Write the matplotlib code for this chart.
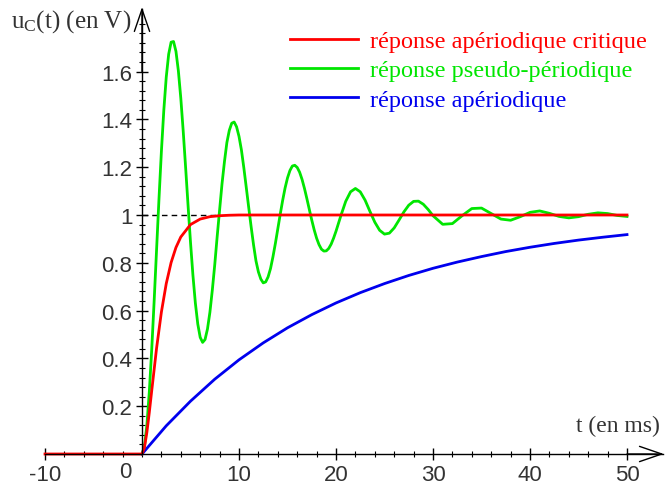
import numpy as np
import matplotlib
matplotlib.use("Agg")
import matplotlib.pyplot as plt
from matplotlib.ticker import FixedLocator
from matplotlib.lines import Line2D

# ---- data ----
t_red = [-10, 0, 0.25, 0.5, 0.75, 1, 1.5, 2, 2.5, 3, 3.5, 4, 5, 6, 7, 8, 9, 10, 50]
u_red = [0, 0, 0.027, 0.090, 0.173, 0.264, 0.442, 0.594, 0.713, 0.801, 0.864, 0.908,
         0.960, 0.983, 0.993, 0.997, 0.999, 1.0, 1.0]

t_green = [0, 0.25, 0.5, 0.75, 1, 1.25, 1.5, 1.75, 2, 2.25, 2.5, 2.75, 3, 3.25, 3.5, 3.75,
           4, 4.25, 4.5, 4.75, 5, 5.25, 5.5, 5.75, 6, 6.25, 6.5, 6.75, 7, 7.25, 7.5, 7.75,
           8, 8.25, 8.5, 8.75, 9, 9.25, 9.5, 9.75, 10, 10.25, 10.5, 10.75, 11, 11.25, 11.5,
           11.75, 12, 12.25, 12.5, 12.75, 13, 13.25, 13.5, 13.75, 14, 14.25, 14.5, 14.75,
           15, 15.25, 15.5, 15.75, 16, 16.25, 16.5, 16.75, 17, 17.25, 17.5, 17.75, 18,
           18.25, 18.5, 18.75, 19, 19.25, 19.5, 19.75, 20, 20.5, 21, 21.5, 22, 22.5, 23,
           23.5, 24, 24.5, 25, 25.5, 26, 26.5, 27, 27.5, 28, 28.5, 29, 29.5, 30, 31, 32,
           33, 34, 35, 36, 37, 38, 39, 40, 41, 42, 43, 44, 45, 46, 47, 48, 49, 50]
u_green = [0, 0.031, 0.120, 0.258, 0.435, 0.638, 0.853, 1.067, 1.266, 1.439, 1.577, 1.673,
           1.723, 1.726, 1.685, 1.603, 1.489, 1.350, 1.197, 1.039, 0.886, 0.748, 0.632,
           0.544, 0.488, 0.467, 0.479, 0.523, 0.593, 0.686, 0.792, 0.910, 1.021, 1.131,
           1.223, 1.303, 1.354, 1.384, 1.389, 1.369, 1.329, 1.272, 1.197, 1.115, 1.032,
           0.951, 0.875, 0.808, 0.762, 0.732, 0.716, 0.720, 0.741, 0.776, 0.825, 0.881,
           0.942, 1.003, 1.061, 1.113, 1.155, 1.186, 1.205, 1.208, 1.199, 1.179, 1.149,
           1.111, 1.068, 1.023, 0.979, 0.938, 0.903, 0.876, 0.857, 0.849, 0.850, 0.860,
           0.878, 0.903, 0.932, 0.997, 1.057, 1.097, 1.111, 1.097, 1.062, 1.015, 0.970,
           0.936, 0.920, 0.924, 0.946, 0.979, 1.013, 1.041, 1.057, 1.058, 1.045, 1.023,
           0.997, 0.961, 0.964, 0.997, 1.027, 1.029, 1.006, 0.983, 0.978, 0.993, 1.011,
           1.017, 1.007, 0.994, 0.988, 0.993, 1.003, 1.009, 1.006, 0.998, 0.994]

t_blue = [0, 2.5, 5, 7.5, 10, 12.5, 15, 17.5, 20, 22.5, 25, 27.5, 30, 32.5, 35, 37.5,
          40, 42.5, 45, 47.5, 50]
u_blue = [0, 0.118, 0.221, 0.313, 0.394, 0.465, 0.528, 0.583, 0.632, 0.675, 0.713, 0.747,
          0.777, 0.803, 0.826, 0.847, 0.865, 0.881, 0.895, 0.907, 0.918]

labels = ["réponse apériodique critique", "réponse pseudo-périodique", "réponse apériodique"]
colors = ["#ff0000", "#00e600", "#0000ee"]

x_ticks = [-10, 10, 20, 30, 40, 50]
x_ticklabels = ["-10", "10", "20", "30", "40", "50"]
y_ticks = [0.2, 0.4, 0.6, 0.8, 1.0, 1.2, 1.4, 1.6]
y_ticklabels = ["0.2", "0.4", "0.6", "0.8", "1", "1.2", "1.4", "1.6"]

# ---- figure ----
plt.rcParams['mathtext.fontset'] = 'custom'
plt.rcParams['mathtext.rm'] = 'Liberation Serif'
plt.rcParams['mathtext.it'] = 'Liberation Serif'

W, H = 665, 489
fig = plt.figure(figsize=(W / 100, H / 100), dpi=100)
x0px, xs = 142.0, 9.7     # px of t=0, px per ms
y0px, ys = 455.0, 239.0   # px (from top) of u=0, px per V
xmin, xmax = -14.0, 53.9
ymin, ymax = -0.14, 1.88
left = (x0px + xmin * xs) / W
width = (xmax - xmin) * xs / W
bottom = (H - (y0px - ymin * ys)) / H
height = (ymax - ymin) * ys / H
ax = fig.add_axes([left, bottom, width, height])
ax.set_xlim(xmin, xmax)
ax.set_ylim(ymin, ymax)

serif = "Liberation Serif"
sans = "Liberation Sans"

ax.hlines(1.0, 0, 8, colors="black", linestyles=(0, (4, 3)), linewidth=1.0, zorder=2)
ax.plot(t_green, u_green, color=colors[1], lw=2.0, label=labels[1], zorder=3)
ax.plot(t_blue, u_blue, color=colors[2], lw=2.0, label=labels[2], zorder=3)
ax.plot(t_red, u_red, color=colors[0], lw=2.0, label=labels[0], zorder=4)

# spines through origin
for s in ["top", "right"]:
    ax.spines[s].set_visible(False)
ax.spines["left"].set_position(("data", 0))
ax.spines["bottom"].set_position(("data", 0))
ax.spines["left"].set_bounds(0, 1.86)
ax.spines["bottom"].set_bounds(-10, 53.7)
for s in ["left", "bottom"]:
    ax.spines[s].set_linewidth(1.0)
    ax.spines[s].set_zorder(5)

ax.set_xticks(x_ticks)
ax.set_xticklabels(x_ticklabels)
ax.set_yticks(y_ticks)
ax.set_yticklabels(y_ticklabels)
ax.xaxis.set_minor_locator(FixedLocator([v for v in range(-10, 51, 2)]))
ax.yaxis.set_minor_locator(FixedLocator([round(0.04 * k, 2) for k in range(1, 46)]))
ax.tick_params(axis="both", which="major", direction="inout", length=8, width=1.0,
               labelsize=16, colors="black", labelcolor="#333333")
ax.tick_params(axis="both", which="minor", direction="inout", length=4, width=0.8)
ax.tick_params(axis="x", which="major", pad=3)
ax.tick_params(axis="y", which="major", pad=3)
for lab in ax.get_xticklabels() + ax.get_yticklabels():
    lab.set_fontfamily(sans)

# "0" label at origin
ax.annotate("0", xy=(0, 0), xytext=(-17, -7), textcoords="offset pixels",
            ha="center", va="top", fontsize=16, family=sans, color="#333333")

# arrows
ax.annotate("", xy=(0, 1.87), xytext=(0, 1.6),
            arrowprops=dict(arrowstyle="->,head_length=1.6,head_width=0.55",
                            lw=1.0, color="black", mutation_scale=10, shrinkA=0, shrinkB=0))
ax.annotate("", xy=(53.8, 0), xytext=(50, 0),
            arrowprops=dict(arrowstyle="->,head_length=1.6,head_width=0.55",
                            lw=1.0, color="black", mutation_scale=10, shrinkA=0, shrinkB=0))

# axis titles
fig.text(131 / W, 1 - 28 / H, r"u$_\mathrm{C}$(t) (en V)", ha="right", va="baseline",
         fontsize=18, family=serif, color="#333333")
fig.text(660 / W, 1 - 432 / H, "t (en ms)", ha="right", va="baseline",
         fontsize=17, family=serif, color="#333333")

# legend
handles = [Line2D([], [], color=colors[0], lw=2.0),
           Line2D([], [], color=colors[1], lw=2.0),
           Line2D([], [], color=colors[2], lw=2.0)]
leg = fig.legend(handles, labels, loc="upper left", bbox_to_anchor=(290 / W, 1 - 31 / H),
                 frameon=False, borderpad=0, borderaxespad=0, handlelength=2.8,
                 handletextpad=0.5, labelspacing=0.3,
                 prop={"family": serif, "size": 17.5}, labelcolor="linecolor")

fig.savefig("out.png", dpi=100)
